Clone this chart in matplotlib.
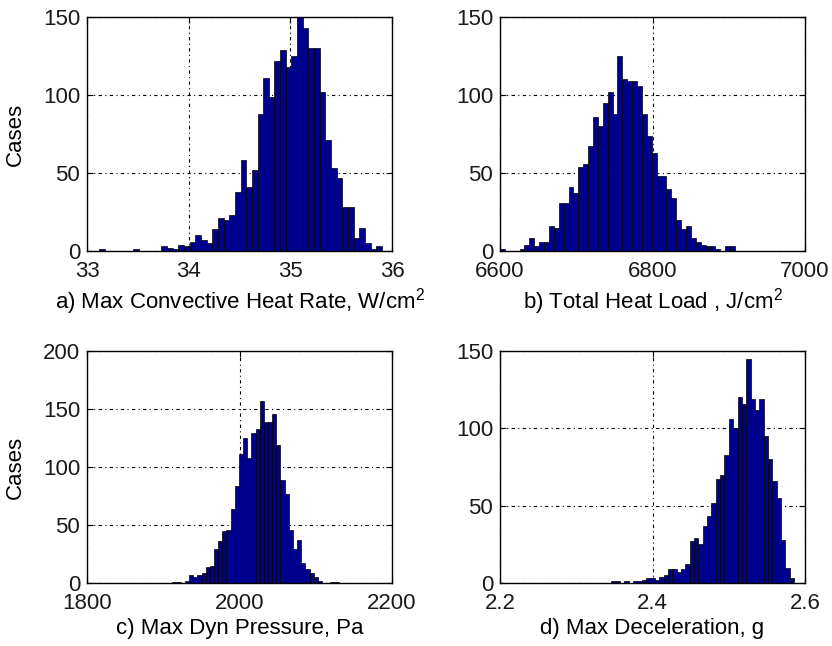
import numpy as np
import matplotlib
matplotlib.use('Agg')
from matplotlib import pyplot as plt

plt.rcParams['font.family'] = ['Liberation Sans', 'DejaVu Sans']
plt.rcParams['font.size'] = 16
plt.rcParams['mathtext.fontset'] = 'custom'
plt.rcParams['mathtext.rm'] = 'Liberation Sans'
plt.rcParams['mathtext.it'] = 'Liberation Sans'
plt.rcParams['text.color'] = '#1a1a1a'
plt.rcParams['xtick.labelcolor'] = '#1a1a1a'
plt.rcParams['ytick.labelcolor'] = '#1a1a1a'

# histogram counts, bins spread evenly over [lo, hi]
heat_rate_counts = [1, 0, 0, 0, 0, 0, 1, 0, 0, 0, 0, 3, 2, 1, 4, 3, 6, 10, 7, 5,
                    14, 21, 20, 23, 38, 58, 41, 52, 88, 111, 99, 122, 129, 118, 125,
                    150, 143, 130, 130, 102, 71, 53, 47, 28, 28, 8, 15, 5, 1, 3]
heat_rate_range = (33.12, 35.90)

heat_load_counts = [1, 0, 0, 0, 1, 4, 8, 3, 6, 6, 16, 15, 31, 31, 41, 37, 54, 56, 67, 86,
                    80, 95, 102, 88, 125, 110, 109, 109, 106, 88, 74, 63, 48, 48, 40,
                    34, 20, 14, 16, 8, 6, 4, 3, 3, 1, 0, 3, 3]
heat_load_range = (6600, 6908)

dyn_pressure_counts = [1, 1, 0, 2, 7, 5, 7, 9, 14, 15, 29, 36, 45, 46, 64, 84, 111, 125,
                       108, 129, 133, 157, 139, 139, 146, 119, 89, 77, 46, 29, 37, 17,
                       12, 9, 5, 2, 0, 0, 1, 1]
dyn_pressure_range = (1912, 2130)

decel_counts = [1, 1, 0, 1, 0, 1, 1, 2, 3, 3, 2, 4, 5, 9, 9, 7, 9, 12, 27, 29, 25, 37,
                43, 52, 67, 70, 83, 106, 100, 120, 116, 145, 119, 112, 119, 95, 80,
                66, 55, 28, 10, 3]
decel_range = (2.346, 2.5856)

panels = [
    (heat_rate_counts, heat_rate_range, [33, 34, 35, 36], [0, 50, 100, 150],
     'a) Max Convective Heat Rate, W/cm$^2$', True),
    (heat_load_counts, heat_load_range, [6600, 6800, 7000], [0, 50, 100, 150],
     'b) Total Heat Load , J/cm$^2$', False),
    (dyn_pressure_counts, dyn_pressure_range, [1800, 2000, 2200], [0, 50, 100, 150, 200],
     'c) Max Dyn Pressure, Pa', True),
    (decel_counts, decel_range, [2.2, 2.4, 2.6], [0, 50, 100, 150],
     'd) Max Deceleration, g', False),
]

positions = [[0.1046, 0.6115, 0.3666, 0.3622],
             [0.601, 0.6115, 0.3666, 0.3622],
             [0.1046, 0.0975, 0.3666, 0.3593],
             [0.601, 0.0975, 0.3666, 0.3593]]

fig = plt.figure(figsize=(8.32, 6.46), dpi=100)

for (counts, rng, xt, yt, label, left), pos in zip(panels, positions):
    ax = fig.add_axes(pos)
    edges = np.linspace(rng[0], rng[1], len(counts) + 1)
    ax.bar(edges[:-1], counts, width=np.diff(edges), align='edge',
           color='#00008F', edgecolor='black', linewidth=0.5)
    ax.set_xlim(xt[0], xt[-1])
    ax.set_ylim(yt[0], yt[-1])
    ax.set_xticks(xt)
    ax.set_yticks(yt)
    ax.set_xticklabels([str(v) for v in xt])
    ax.set_axisbelow(True)
    ax.grid(True, color='black', linestyle=(0, (3, 3, 1, 3)), linewidth=0.8)
    ax.tick_params(direction='in', length=4, top=True, right=True)
    ax.tick_params(axis='x', pad=7)
    ax.tick_params(axis='y', pad=5)
    for s in ax.spines.values():
        s.set_linewidth(1.0)
    ax.set_xlabel(label, labelpad=3)
    if left:
        ax.set_ylabel('Cases', labelpad=12)

fig.savefig('out.png', dpi=100)
